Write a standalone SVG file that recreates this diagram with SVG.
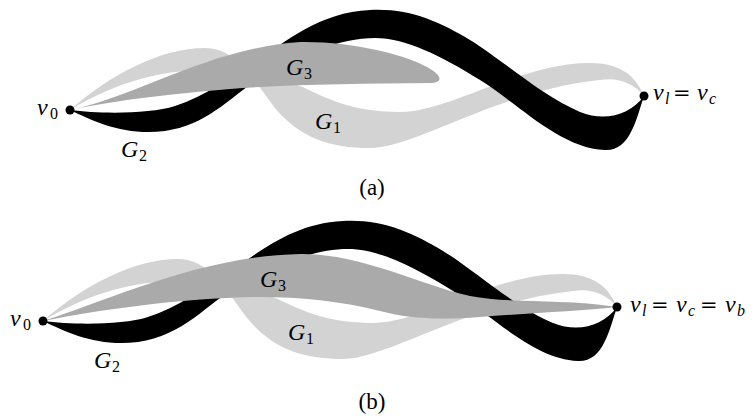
<svg xmlns="http://www.w3.org/2000/svg" xmlns:xlink="http://www.w3.org/1999/xlink" width="754" height="416" viewBox="0 0 754 416">
<style>
.g1{fill:#d3d3d3}
.g2{fill:#000}
.g3{fill:#aaaaaa}
.dot{fill:#000}
.it{font-family:"Liberation Serif",serif;font-style:italic;font-size:24px;fill:#000}
.sub{font-family:"Liberation Serif",serif;font-size:16px;fill:#000}
.subi{font-family:"Liberation Serif",serif;font-style:italic;font-size:16px;fill:#000}
.eq{font-family:"DejaVu Serif",serif;font-size:21px;fill:#000}
.cap{font-family:"Liberation Serif",serif;font-size:23px;fill:#000;text-anchor:middle}
</style>
<defs>
<path id="pG1" d="M70,110 C110,75 160,48 205,48 C235,48 250,75 275,108 C300,138 330,148 370,148 C415,148 500,90 600,80 C620,77 635,85 644,96 C635,75 620,63 590,63 C520,63 450,112 400,112 C350,112 325,97 300,86 C270,75 235,72 195,71 C160,70 110,85 70,110 Z"/>
<path id="pG2" d="M70,110 C100,114 150,114 175,106 C205,96 230,78 255,62 C285,42 320,12 370,10 C410,8 440,22 470,40 C500,58 540,95 580,112 C605,122 630,115 644,96 C636,120 630,151 605,150 C560,148 520,105 480,80 C440,55 405,38 375,38 C340,38 300,55 265,75 C235,92 210,125 165,131 C125,136 95,122 70,110 Z"/>
</defs>

<g id="panel-a">
  <g id="a-G1"><use xlink:href="#pG1" href="#pG1" class="g1"/></g>
  <g id="a-G2"><use xlink:href="#pG2" href="#pG2" class="g2"/></g>
  <g id="a-G3"><path class="g3" d="M70,110 C140,95 210,48 300,42 C350,41 410,55 432,70 C442,77 442,82 432,83 C360,84 290,84 230,89 C170,94 110,101 70,110 Z"/></g>
  <g id="a-v0"><circle class="dot" cx="70" cy="110" r="4.5"/></g>
  <g id="a-vl"><circle class="dot" cx="644" cy="96" r="4.5"/></g>
  <g id="a-labels">
    <text class="it" x="37" y="115">v</text><text class="sub" x="50" y="119">0</text>
    <text class="it" x="121" y="157">G</text><text class="sub" x="139" y="161">2</text>
    <text class="it" x="315" y="129">G</text><text class="sub" x="333" y="133">1</text>
    <text class="it" x="286" y="75">G</text><text class="sub" x="304" y="79">3</text>
    <text class="it" x="653" y="100">v</text><text class="subi" x="665" y="104">l</text>
    <text class="eq" x="673" y="100">=</text>
    <text class="it" x="697" y="100">v</text><text class="subi" x="709" y="104">c</text>
    <text class="cap" x="372" y="195">(a)</text>
  </g>
</g>

<g id="panel-b">
  <g id="b-G1"><use xlink:href="#pG1" href="#pG1" class="g1" transform="translate(-27,211)"/></g>
  <g id="b-G2"><use xlink:href="#pG2" href="#pG2" class="g2" transform="translate(-27,211)"/></g>
  <g id="b-G3"><path class="g3" d="M43,321 C110,300 200,256 300,254 C360,253 420,285 470,296 C510,304 560,298 617,307 C580,311 530,313 480,317 C440,320 410,319 380,311 C340,301 300,297 260,297 C180,298 100,310 43,321 Z"/></g>
  <g id="b-v0"><circle class="dot" cx="43" cy="321" r="4.5"/></g>
  <g id="b-vl"><circle class="dot" cx="617" cy="307" r="4.5"/></g>
  <g id="b-labels">
    <text class="it" x="10" y="326">v</text><text class="sub" x="23" y="330">0</text>
    <text class="it" x="94" y="368">G</text><text class="sub" x="112" y="372">2</text>
    <text class="it" x="288" y="340">G</text><text class="sub" x="306" y="344">1</text>
    <text class="it" x="260" y="287">G</text><text class="sub" x="278" y="291">3</text>
    <text class="it" x="630" y="312">v</text><text class="subi" x="642" y="316">l</text>
    <text class="eq" x="651" y="312">=</text>
    <text class="it" x="676" y="312">v</text><text class="subi" x="688" y="316">c</text>
    <text class="eq" x="700" y="312">=</text>
    <text class="it" x="725" y="312">v</text><text class="subi" x="737" y="316">b</text>
    <text class="cap" x="372" y="409">(b)</text>
  </g>
</g>
</svg>
